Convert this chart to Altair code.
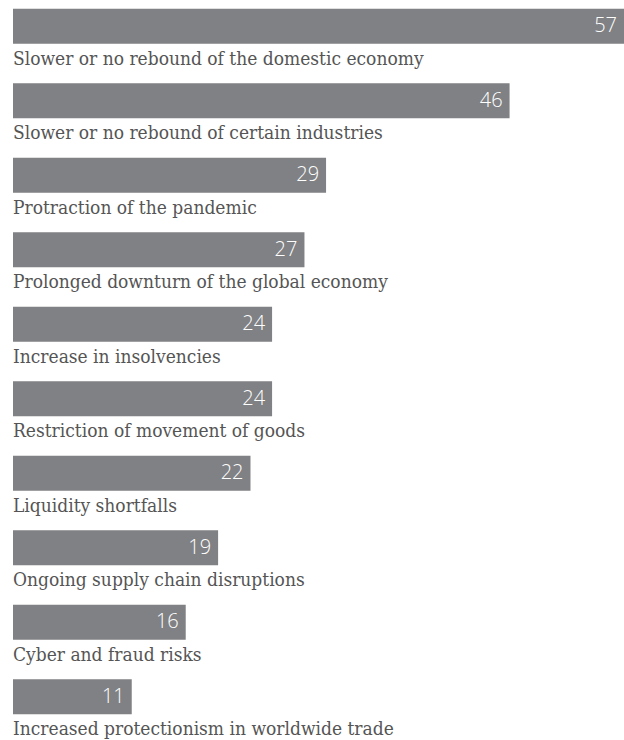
import altair as alt
import pandas as pd

categories = [
    "Slower or no rebound of the domestic economy",
    "Slower or no rebound of certain industries",
    "Protraction of the pandemic",
    "Prolonged downturn of the global economy",
    "Increase in insolvencies",
    "Restriction of movement of goods",
    "Liquidity shortfalls",
    "Ongoing supply chain disruptions",
    "Cyber and fraud risks",
    "Increased protectionism in worldwide trade",
]
values = [57, 46, 29, 27, 24, 24, 22, 19, 16, 11]

df = pd.DataFrame({"category": categories, "value": values})

y = alt.Y("category:N", sort=None, axis=None,
          scale=alt.Scale(paddingInner=0, paddingOuter=0))
x = alt.X("value:Q", axis=None,
          scale=alt.Scale(domain=[0, 56.6], clamp=True, nice=False, zero=True))

base = alt.Chart(df)

bars = base.mark_bar(color="#808184", size=35, yOffset=-11).encode(x=x, y=y)

vals = base.mark_text(align="right", baseline="middle", dx=-7, yOffset=-11,
                      color="white", font="Open Sans", fontSize=20,
                      fontWeight=300).encode(
    x=x, y=y, text="value:Q")

labels = base.mark_text(align="left", baseline="alphabetic", dy=38.5, yOffset=-11,
                        color="#555555", font="DejaVu Serif Condensed",
                        fontSize=19).encode(
    x=alt.value(0), y=y, text="category:N")

chart = alt.layer(bars, vals, labels).properties(
    width=611, height=745,
    padding={"left": 13, "top": 0, "right": 0, "bottom": 0},
    autosize=alt.AutoSizeParams(type="none"),
).configure_view(stroke=None)

chart.save("out.html", embed_options={"renderer": "svg", "actions": False})
